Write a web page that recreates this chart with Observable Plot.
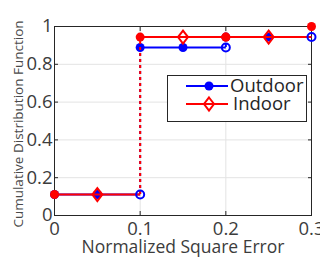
<!DOCTYPE html>
<html><head><meta charset="utf-8">
<script src="https://cdn.jsdelivr.net/npm/d3@7"></script>
<script src="https://cdn.jsdelivr.net/npm/@observablehq/plot@0.6"></script>
<style>
body{margin:0;background:#fff;}
#wrap{position:relative;width:320px;height:266px;overflow:hidden;font-family:"Open Sans",sans-serif;}
#legend{position:absolute;left:167px;top:75px;}
</style></head><body><div id="wrap"></div>
<script>
// ---- data ----
const seriesNames = ["Outdoor", "Indoor"];
const seriesColors = ["#0000ff", "#ff0000"];
const stepStart = [0, 0.1, 0.2];
const stepEnd = [0.1, 0.2, 0.3];
const stepMid = [0.05, 0.15, 0.25];
const outdoorCdf = [0.111, 0.889, 0.944];
const indoorCdf = [0.111, 0.944, 0.944];
const indoorEndX = [0.3];
const indoorEndY = [1.0];
const xTicks = [0, 0.1, 0.2, 0.3];
const yTicks = [0, 0.2, 0.4, 0.6, 0.8, 1];
const xGrid = [0.1, 0.2];
const yGrid = [0.2, 0.4, 0.6, 0.8];
const xTitle = "Normalized Square Error";
const yTitle = "Cumulative Distribution Function";

const [blue, red] = seriesColors;
const segs = (cdf) => cdf.map((y, i) => ({x1: stepStart[i], x2: stepEnd[i], y, xm: stepMid[i]}));
const outdoor = segs(outdoorCdf);
const indoor = segs(indoorCdf);
const jumps = (cdf) => cdf.slice(1).map((y, i) => ({x: stepStart[i + 1], y1: cdf[i], y2: y})).filter(d => d.y1 !== d.y2);
const indoorEnd = indoorEndX.map((x, i) => ({x, y: indoorEndY[i]}));

const diamond = {draw(ctx, size) { const w = 5, h = 6.5; ctx.moveTo(0, -h); ctx.lineTo(w, 0); ctx.lineTo(0, h); ctx.lineTo(-w, 0); ctx.closePath(); }};
const font = {fontSize: 18.5, fill: "#3c3c3c"};

const chart = Plot.plot({
  width: 320, height: 266,
  marginLeft: 54, marginRight: 9, marginTop: 26, marginBottom: 51,
  style: {fontFamily: "Open Sans, sans-serif", background: "#fff", overflow: "visible"},
  x: {domain: [0, 0.3]},
  y: {domain: [0, 1]},
  marks: [
    Plot.ruleY(yGrid, {stroke: "#e3e3e3", strokeWidth: 1}),
    Plot.ruleX(xGrid, {stroke: "#e3e3e3", strokeWidth: 1}),
    Plot.frame({stroke: "#262626"}),
    Plot.axisX(xTicks, {anchor: "bottom", tickSize: -4, tickPadding: 10, tickFormat: d => d === 0 ? "0" : String(d), label: null, ...font, stroke: "#262626"}),
    Plot.axisX(xTicks, {anchor: "top", tickSize: -4, tickFormat: () => "", label: null, stroke: "#262626"}),
    Plot.axisY(yTicks, {anchor: "left", tickSize: -4, tickPadding: 6, tickFormat: d => String(d), label: null, ...font, stroke: "#262626"}),
    Plot.axisY(yTicks, {anchor: "right", tickSize: -4, tickFormat: () => "", label: null, stroke: "#262626"}),
    Plot.text([xTitle], {frameAnchor: "bottom", dy: 37, fontSize: 17.5, fill: "#3c3c3c"}),
    // Outdoor
    Plot.ruleX(jumps(outdoorCdf), {x: "x", y1: "y1", y2: "y2", stroke: blue, strokeWidth: 2, strokeDasharray: "3,3"}),
    Plot.link(outdoor, {x1: "x1", x2: "x2", y1: "y", y2: "y", stroke: blue, strokeWidth: 2}),
    Plot.dot(outdoor, {x: "x1", y: "y", r: 4.5, fill: blue}),
    Plot.dot(outdoor, {x: "xm", y: "y", r: 4.5, fill: blue}),
    // Indoor
    Plot.ruleX(jumps(indoorCdf), {x: "x", y1: "y1", y2: "y2", stroke: red, strokeWidth: 2, strokeDasharray: "3,3"}),
    Plot.link(indoor, {x1: "x1", x2: "x2", y1: "y", y2: "y", stroke: red, strokeWidth: 2}),
    Plot.dot(indoor, {x: "x1", y: "y", r: 4.5, fill: red}),
    Plot.dot(indoor, {x: "x2", y: "y", r: 4.5, fill: red, filter: (d, i) => i === 1}),
    Plot.dot(indoor, {x: "xm", y: "y", symbol: diamond, fill: "none", stroke: red, strokeWidth: 2}),
    Plot.dot(outdoor, {x: "x2", y: "y", r: 4, fill: "none", stroke: blue, strokeWidth: 2}),
    Plot.dot(indoorEnd, {x: "x", y: "y", r: 4.5, fill: red})
  ]
});
const wrap = document.getElementById("wrap");
wrap.appendChild(chart);

// rotated y-axis title
d3.select(chart).append("text")
  .attr("transform", "translate(18,124) rotate(-90)")
  .attr("text-anchor", "middle").attr("dy", "0.35em")
  .attr("font-size", 13.5).attr("fill", "#4a4a4a").attr("font-family", "Open Sans, sans-serif")
  .text(yTitle);

// legend (inside the axes, like the original)
const lg = d3.select(wrap).append("svg").attr("id", "legend").attr("width", 150).attr("height", 48).style("overflow", "visible");
lg.append("rect").attr("x", 0.5).attr("y", 0.5).attr("width", 139).attr("height", 46).attr("fill", "#fff").attr("stroke", "#262626");
seriesNames.forEach((name, i) => {
  const y = 11 + i * 18;
  const g = lg.append("g").attr("transform", `translate(0,${y})`);
  g.append("line").attr("x1", 19).attr("x2", 61).attr("stroke", seriesColors[i]).attr("stroke-width", 2);
  if (i === 0) g.append("circle").attr("cx", 42).attr("r", 4.5).attr("fill", seriesColors[i]);
  else g.append("path").attr("d", "M42,-6.5L47,0L42,6.5L37,0Z").attr("fill", "none").attr("stroke", seriesColors[i]).attr("stroke-width", 2);
  g.append("text").attr("x", i === 0 ? 63 : 66).attr("dy", "0.35em").attr("font-size", 18.5).attr("fill", "#262626").attr("font-family", "Open Sans, sans-serif").text(name);
});
</script></body></html>
